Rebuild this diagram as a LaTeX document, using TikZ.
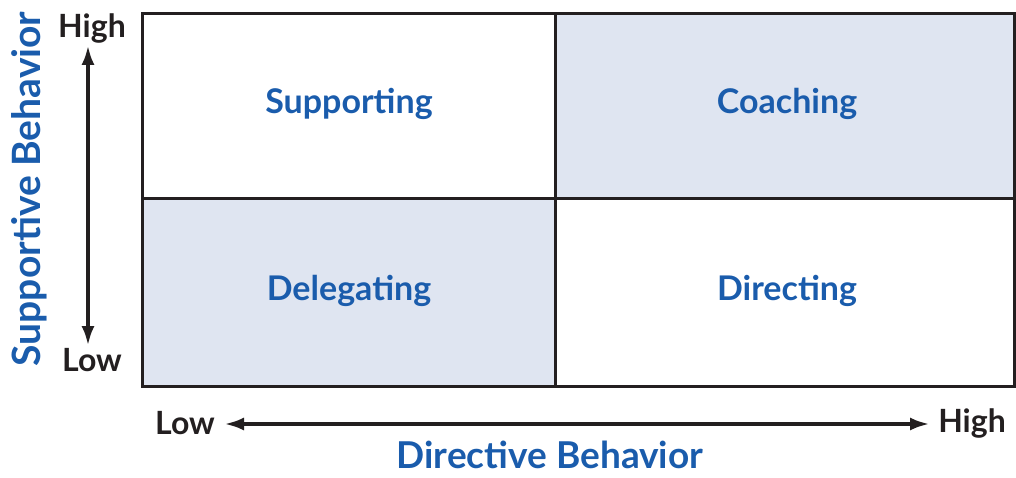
\documentclass[tikz,border=0pt]{standalone}
\usepackage{fontspec}
\setmainfont{Lato}
\usetikzlibrary{arrows.meta}
\definecolor{labelblue}{RGB}{26,92,172}
\definecolor{cellfill}{RGB}{223,229,241}
\definecolor{ink}{RGB}{35,31,32}
\tikzset{
  cell/.style={draw=ink,line width=3pt},
  quad/.style={text=labelblue,font=\bfseries\fontsize{34}{40}\selectfont},
  level/.style={text=ink,font=\bfseries\fontsize{32}{38}\selectfont},
  axis/.style={text=labelblue,inner sep=0pt,font=\bfseries\fontsize{37}{43}\selectfont},
  scale arrow/.style={draw=ink,line width=4pt,{Latex[length=20pt,width=13pt]}-{Latex[length=20pt,width=13pt]}}
}
\begin{document}
\begin{tikzpicture}[x=1pt,y=-1pt]
  \useasboundingbox (0,0) rectangle (1016,478);
  \fill[cellfill] (555,14) rectangle (1014,199);
  \fill[cellfill] (142,199) rectangle (555,386);
  \draw[cell] (142,14) rectangle (1014,386);
  \draw[cell] (555,14) -- (555,386);
  \draw[cell] (142,199) -- (1014,199);
  \draw
    (349,104) node[quad] (supporting){Supporting}
    (787,104) node[quad] (coaching){Coaching}
    (349,291) node[quad] (delegating){Delegating}
    (787,291) node[quad] (directing){Directing};
  \draw
    (92,29) node[level] (yhigh){High}
    (92,360) node[level] (ylow){Low}
    (185,423) node[level] (xlow){Low}
    (972,423) node[level] (xhigh){High};
  \draw
    (29,189) node[axis,font=\bfseries\fontsize{39}{45}\selectfont,rotate=90] (yaxis){Supportive Behavior}
    (550,455) node[axis] (xaxis){Directive Behavior};
  \coordinate (ytop) at (88,45);
  \coordinate (ybot) at (88,346);
  \coordinate (xleft) at (224,424);
  \coordinate (xright) at (930,424);
  \begin{scope}[scale arrow]
    \draw (ytop) -- (ybot);
    \draw (xleft) -- (xright);
  \end{scope}
\end{tikzpicture}
\end{document}
